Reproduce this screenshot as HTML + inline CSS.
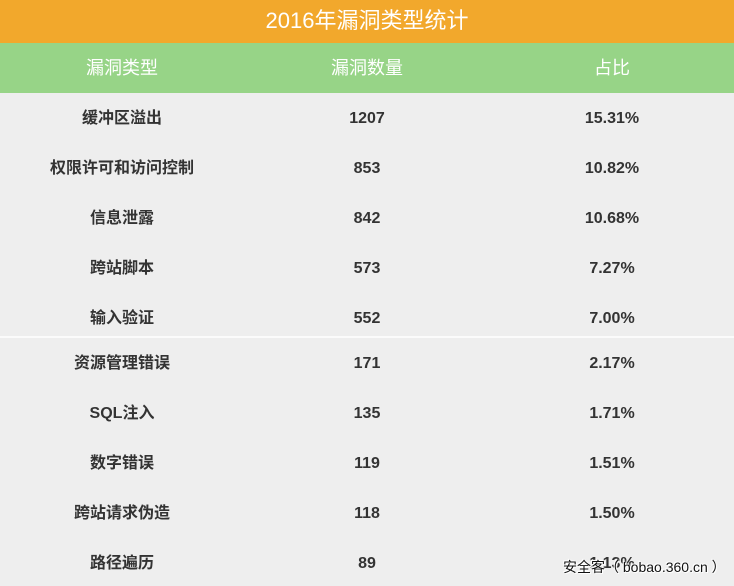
<!DOCTYPE html>
<html><head><meta charset="utf-8"><style>
html,body{margin:0;padding:0;}
body{width:734px;height:586px;position:relative;overflow:hidden;background:#eeeeee;font-family:"Liberation Sans","Noto Sans CJK SC",sans-serif;}
.title{position:absolute;left:0;top:0;width:734px;height:43px;background:#f2a82c;color:#fff;font-size:22px;line-height:42px;text-align:center;}
.head{position:absolute;left:0;top:43px;width:734px;height:50px;background:#97d487;}
.head div{position:absolute;top:0;height:50px;line-height:50px;color:#fff;font-size:18px;text-align:center;width:244px;}
.c{position:absolute;width:244px;text-align:center;font-size:16px;font-weight:bold;color:#333;height:24px;line-height:24px;}
.c1{left:0;}.c2{left:245px;}.c3{left:490px;}
.div{position:absolute;left:0;top:336px;width:734px;height:2px;background:#fbfbfb;}
.wm{position:absolute;left:563px;top:557px;font-size:14px;color:#111;line-height:20px;text-shadow:0 0 2px #fff,0 0 2px #fff,1px 1px 0 #fff,-1px -1px 0 #fff;white-space:nowrap;font-family:"Liberation Sans","Noto Sans CJK SC",sans-serif;}
</style></head><body>
<div class="title">2016年漏洞类型统计</div>
<div class="head"><div style="left:0">漏洞类型</div><div style="left:245px">漏洞数量</div><div style="left:490px">占比</div></div>

<div class="c c1" style="top:107px">缓冲区溢出</div><div class="c c2" style="top:107px">1207</div><div class="c c3" style="top:107px">15.31%</div>
<div class="c c1" style="top:157px">权限许可和访问控制</div><div class="c c2" style="top:157px">853</div><div class="c c3" style="top:157px">10.82%</div>
<div class="c c1" style="top:207px">信息泄露</div><div class="c c2" style="top:207px">842</div><div class="c c3" style="top:207px">10.68%</div>
<div class="c c1" style="top:257px">跨站脚本</div><div class="c c2" style="top:257px">573</div><div class="c c3" style="top:257px">7.27%</div>
<div class="c c1" style="top:307px">输入验证</div><div class="c c2" style="top:307px">552</div><div class="c c3" style="top:307px">7.00%</div>
<div class="div"></div>
<div class="c c1" style="top:352px">资源管理错误</div><div class="c c2" style="top:352px">171</div><div class="c c3" style="top:352px">2.17%</div>
<div class="c c1" style="top:402px">SQL注入</div><div class="c c2" style="top:402px">135</div><div class="c c3" style="top:402px">1.71%</div>
<div class="c c1" style="top:452px">数字错误</div><div class="c c2" style="top:452px">119</div><div class="c c3" style="top:452px">1.51%</div>
<div class="c c1" style="top:502px">跨站请求伪造</div><div class="c c2" style="top:502px">118</div><div class="c c3" style="top:502px">1.50%</div>
<div class="c c1" style="top:552px">路径遍历</div><div class="c c2" style="top:552px">89</div><div class="c c3" style="top:552px">1.13%</div>
<div class="wm">安全客（ bobao.360.cn ）</div>
</body></html>
